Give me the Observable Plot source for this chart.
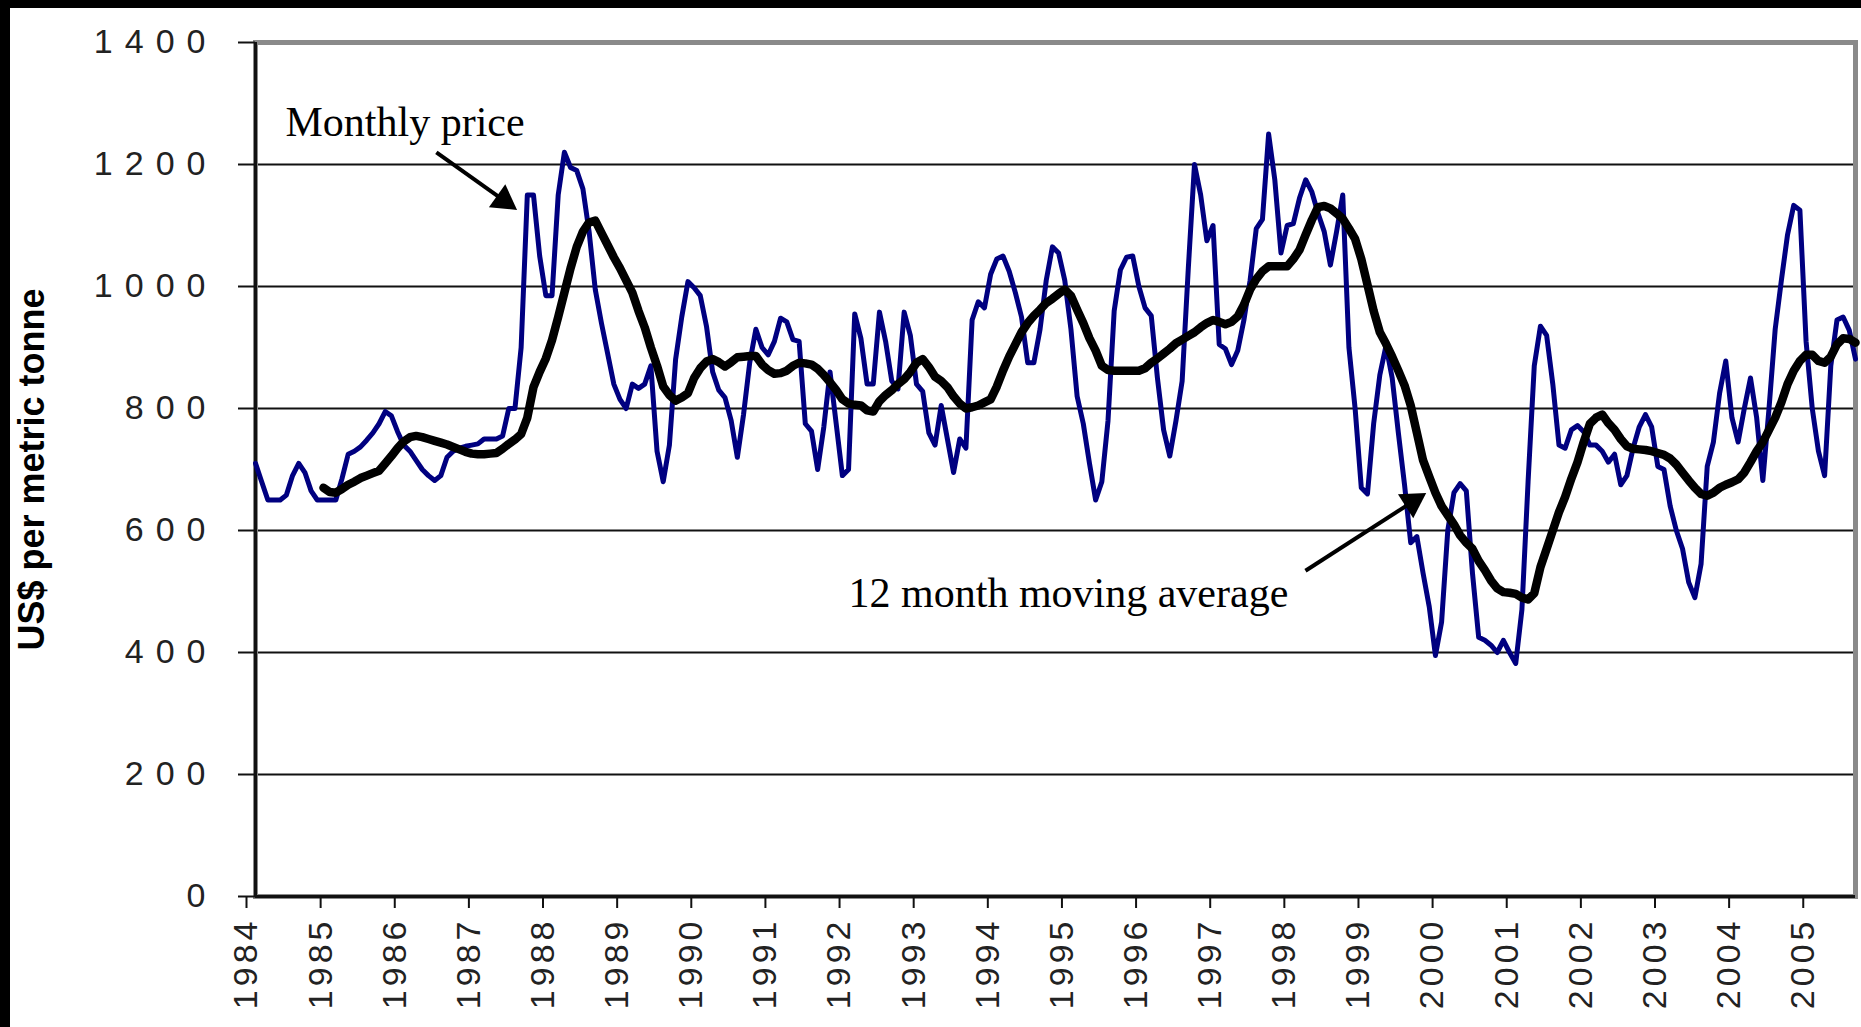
<!DOCTYPE html>
<html>
<head>
<meta charset="utf-8">
<script src="https://cdn.jsdelivr.net/npm/d3@7"></script>
<script src="https://cdn.jsdelivr.net/npm/@observablehq/plot@0.6"></script>
<style>
html, body { margin: 0; padding: 0; background: #000; }
#wrap { position: relative; width: 1861px; height: 1027px; background: #fff; overflow: hidden; }
.band { position: absolute; background: #000; z-index: 5; }
</style>
</head>
<body>
<div id="wrap"></div>
<script>
// ---- Data ----
const startYear = 1984; // first monthly value = January 1984
const monthlyPrice = [
  710, 680, 650, 650, 650, 658, 690, 710, 695, 665,
  650, 650, 650, 650, 685, 725, 730, 737, 748, 760,
  775, 795, 788, 762, 740, 730, 715, 700, 690, 682,
  690, 720, 730, 735, 738, 740, 742, 750, 750, 750,
  755, 800, 800, 900, 1150, 1150, 1050, 985, 985, 1150,
  1220, 1195, 1190, 1160, 1090, 995, 940, 890, 840, 815,
  800, 840, 833, 840, 870, 730, 680, 740, 880, 950,
  1008, 998, 985, 935, 860, 830, 818, 780, 720, 790,
  875, 930, 900, 888, 910, 948, 942, 913, 910, 775,
  763, 700, 770, 860, 775, 690, 700, 955, 915, 840,
  840, 958, 910, 845, 832, 958, 920, 840, 828, 760,
  740, 805, 750, 695, 750, 735, 945, 975, 965, 1020,
  1045, 1050, 1025, 990, 950, 875, 875, 930, 1010, 1065,
  1055, 1010, 930, 820, 775, 710, 650, 680, 780, 960,
  1027, 1048, 1050, 1000, 965, 952, 850, 765, 722, 780,
  845, 1030, 1200, 1150, 1075, 1100, 905, 898, 872, 895,
  945, 1010, 1095, 1110, 1250, 1175, 1055, 1100, 1103, 1145,
  1175, 1155, 1120, 1090, 1035, 1090, 1150, 900, 800, 670,
  660, 775, 855, 903, 850, 760, 675, 580, 590, 530,
  475, 395, 450, 600, 662, 677, 665, 530, 425, 420,
  412, 400, 420, 400, 382, 470, 680, 870, 935, 920,
  840, 740, 735, 765, 772, 762, 740, 740, 730, 712,
  725, 675, 690, 735, 770, 790, 770, 705, 700, 640,
  600, 570, 515, 490, 545, 705, 745, 825, 878, 785,
  745, 800, 850, 785, 682, 800, 930, 1010, 1085, 1133,
  1125, 910, 800, 730, 690, 870, 945, 950, 928, 881
];
const maStartMonth = 11; // first moving-average value = December 1984
const movingAverage = [
  670, 663, 662, 668, 675, 680, 686, 690, 694,
  698, 710, 722, 735, 746, 753, 755, 753, 750, 747,
  744, 741, 737, 733, 729, 726, 725, 725, 726, 727,
  734, 742, 749, 758, 785, 835, 860, 882, 912, 950,
  990, 1030, 1065, 1090, 1105, 1108, 1088, 1068, 1048, 1030,
  1010, 990, 960, 933, 900, 870, 836, 822, 813, 818,
  825, 850, 866, 877, 881, 876, 869, 876, 884, 885,
  886, 886, 872, 863, 857, 858, 862, 870, 875, 874,
  872, 865, 855, 843, 830, 815, 808, 806, 805, 797,
  795, 812, 822, 830, 840, 848, 860, 875, 881, 868,
  852, 845, 835, 820, 808, 800, 802, 805, 810, 815,
  836, 862, 885, 905, 925, 940, 952, 962, 973, 980,
  988, 995, 985, 962, 940, 915, 895, 870, 863, 862,
  862, 862, 862, 862, 866, 875, 882, 890, 898, 907,
  913, 919, 925, 933, 940, 945, 942, 938, 942, 951,
  970, 995, 1012, 1025, 1033, 1033, 1033, 1033, 1045, 1060,
  1085, 1109, 1130, 1132, 1128, 1120, 1111, 1095, 1078, 1045,
  1003, 960, 925, 906, 885, 862, 838, 805, 760, 715,
  688, 662, 640, 625, 610, 592, 580, 570, 550, 535,
  518, 505, 499, 498, 496, 490, 487, 497, 540, 570,
  600, 630, 655, 685, 712, 745, 775, 785, 790, 776,
  765, 750, 738, 734, 733, 732, 730, 727, 724, 718,
  708, 695, 682, 670, 660, 657, 662, 670, 675, 679,
  684, 695, 712, 730, 745, 765, 785, 810, 840, 862,
  878, 888, 888, 878, 875, 885, 905, 915, 914, 908
];
const yearTicks = [1984, 1985, 1986, 1987, 1988, 1989, 1990, 1991, 1992, 1993, 1994,
                   1995, 1996, 1997, 1998, 1999, 2000, 2001, 2002, 2003, 2004, 2005];
const valueTicks = [0, 200, 400, 600, 800, 1000, 1200, 1400];
const yTitle = "US$ per metric tonne";
const notes = [
  {label: "Monthly price", x: 1984.405, y: 1246},
  {label: "12 month moving average", x: 1992.0, y: 475}
];
const arrows = [
  {x1: 1986.44, y1: 1220, x2: 1987.349, y2: 1141, angle: 125.4},
  {x1: 1998.164, y1: 534, x2: 1999.607, y2: 647, angle: 57.3}
];

// ---- Tables ----
const priceRows = monthlyPrice.map((v, i) => ({t: startYear + i / 12, v}));
const maRows = movingAverage.map((v, i) => ({t: startYear + (i + maStartMonth) / 12, v}));
const lastT = startYear + (monthlyPrice.length - 1) / 12;

const sans = "Liberation Sans, Arial, sans-serif";
const serif = "Liberation Serif, Times New Roman, serif";

const chart = Plot.plot({
  width: 1861,
  height: 1027,
  marginLeft: 255,
  marginRight: 6,
  marginTop: 42,
  marginBottom: 131,
  style: {background: "white", fontFamily: sans},
  x: {domain: [startYear, lastT], axis: null},
  y: {domain: [0, 1400], axis: null},
  marks: [
    Plot.ruleY(valueTicks.filter(d => d > 0 && d < 1400), {stroke: "#111", strokeWidth: 2}),
    Plot.frame({stroke: "#8a8a8a", strokeWidth: 5}),
    Plot.ruleX([startYear], {stroke: "#111", strokeWidth: 3}),
    Plot.ruleY([0], {stroke: "#111", strokeWidth: 3}),
    Plot.axisY({ticks: valueTicks, tickSize: 17, tickPadding: 21, fontSize: 34, fontFamily: sans,
                fill: "#222", stroke: "#111", strokeWidth: 2, label: null, tickFormat: d => String(d)}),
    Plot.axisX({ticks: yearTicks, tickSize: 12, tickPadding: 9, fontSize: 34, fontFamily: sans,
                fill: "#222", stroke: "#111", strokeWidth: 2, tickRotate: -90, dx: -9,
                label: null, tickFormat: d => String(d)}),
    Plot.line(priceRows, {x: "t", y: "v", stroke: "#000080", strokeWidth: 5,
                          strokeLinejoin: "round", strokeLinecap: "round"}),
    Plot.line(maRows, {x: "t", y: "v", stroke: "#000", strokeWidth: 8.5,
                       strokeLinejoin: "round", strokeLinecap: "round"}),
    Plot.link(arrows, {x1: "x1", y1: "y1", x2: "x2", y2: "y2", stroke: "#000", strokeWidth: 4}),
    Plot.dot(arrows, {x: "x2", y: "y2", symbol: "triangle", r: 10.5, fill: "#000", rotate: "angle"}),
    Plot.text(notes, {x: "x", y: "y", text: "label", textAnchor: "start", lineAnchor: "bottom",
                      fontFamily: serif, fontSize: 42, fill: "#000"}),
    Plot.text([yTitle], {frameAnchor: "left", text: d => d, rotate: -90, dx: -212,
                         textAnchor: "middle", lineAnchor: "bottom",
                         fontFamily: sans, fontSize: 36, fontWeight: "bold", fill: "#000"})
  ]
});

d3.select(chart).selectAll('g[aria-label="y-axis tick label"] text').style("letter-spacing", "12px");
d3.select(chart).selectAll('g[aria-label="x-axis tick label"] text').style("letter-spacing", "4px");

const wrapEl = document.getElementById("wrap");
wrapEl.appendChild(chart);
const bandTop = document.createElement("div");
bandTop.className = "band";
bandTop.style.cssText = "left:0;top:0;width:1861px;height:8px;";
wrapEl.appendChild(bandTop);
const bandLeft = document.createElement("div");
bandLeft.className = "band";
bandLeft.style.cssText = "left:0;top:0;width:10px;height:1027px;";
wrapEl.appendChild(bandLeft);
</script>
</body>
</html>
